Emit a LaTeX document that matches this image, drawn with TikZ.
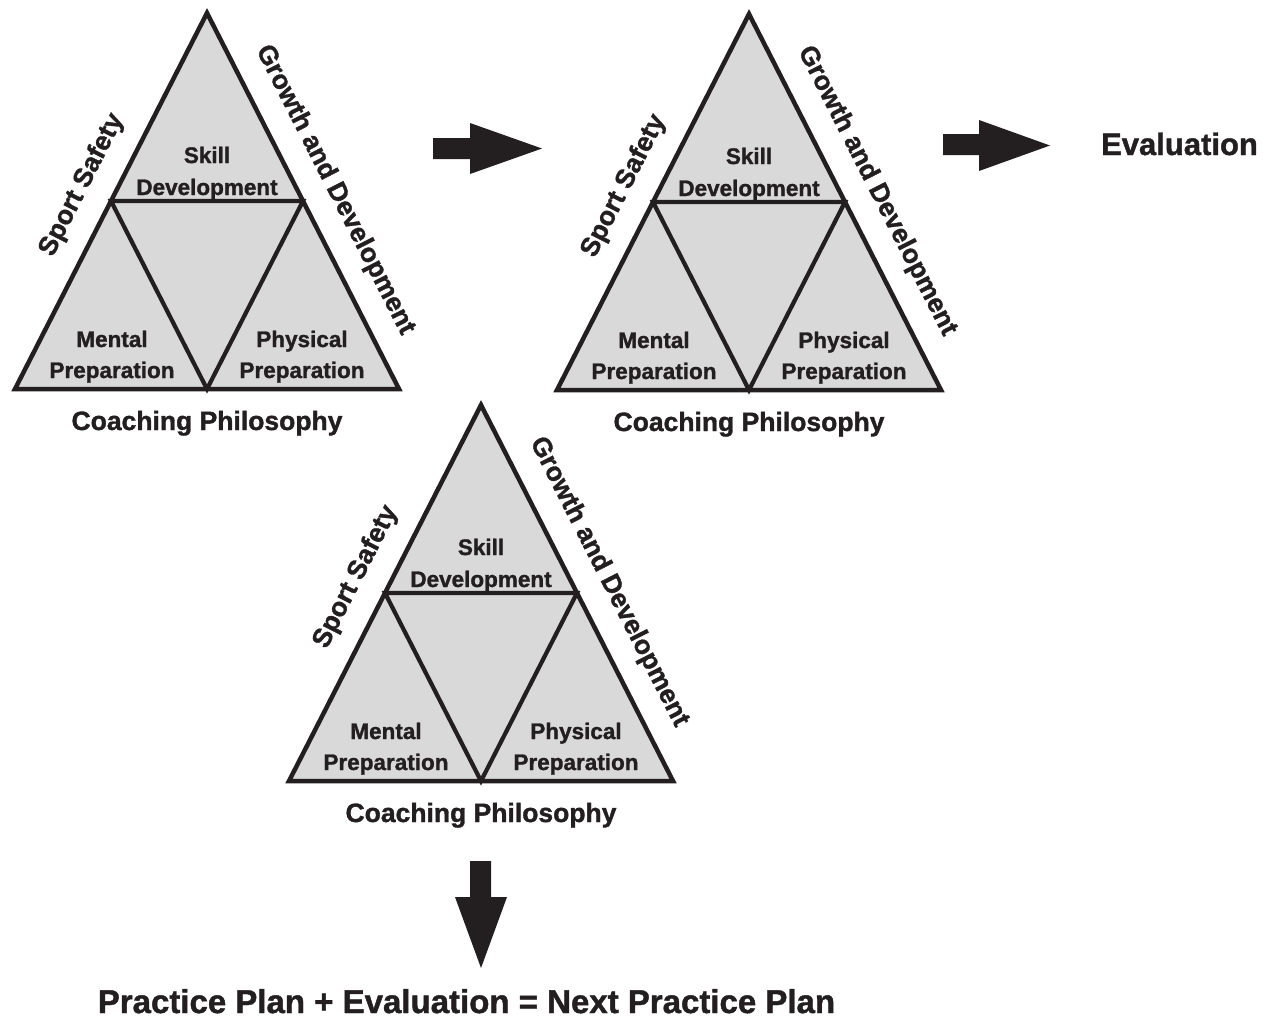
\documentclass[tikz,border=0pt]{standalone}
\usepackage{fontspec}
\setmainfont{Liberation Sans}[BoldFeatures={FakeBold=1.3}]
\definecolor{ink}{HTML}{231F20}
\definecolor{trifill}{HTML}{D9D9D9}
\tikzset{
  outertri/.style={fill=trifill, draw=ink, line width=4.5pt, line join=miter},
  innertri/.style={draw=ink, line width=4.2pt, line join=miter},
  lbl/.style={text=ink, font=\fontsize{22.5}{27}\selectfont\bfseries, inner sep=0pt, anchor=base},
  sidelbl/.style={text=ink, font=\fontsize{26.5}{30}\selectfont\bfseries, inner sep=0pt},
  titlelbl/.style={text=ink, font=\fontsize{26.5}{30}\selectfont\bfseries, inner sep=0pt, anchor=base},
  blockarrow/.style={fill=ink, draw=none}
}
\begin{document}
\begin{tikzpicture}[x=1pt,y=-1pt]
\useasboundingbox (0,0) rectangle (1271,1018);
\foreach \n/\ax/\ay in {t1/207/13, t2/749/14, t3/481/405}{
  \begin{scope}[shift={(\ax,\ay)}]
    \draw[outertri] (0,0) -- (-192,376) -- (192,376) -- cycle;
    \draw[innertri] (-96,188) -- (96,188) -- (0,376) -- cycle;
    \node[lbl] (\n-skill) at (0,150) {Skill};
    \node[lbl] (\n-skilldev) at (0,182) {Development};
    \node[lbl] (\n-mental) at (-95,334) {Mental};
    \node[lbl] (\n-mentalprep) at (-95,365) {Preparation};
    \node[lbl] (\n-phys) at (95,334) {Physical};
    \node[lbl] (\n-physprep) at (95,365) {Preparation};
    \node[titlelbl] (\n-coach) at (0,417) {Coaching Philosophy};
    \node[sidelbl, rotate=63] (\n-safety) at (-125,172) {Sport Safety};
    \node[sidelbl, rotate=-63] (\n-growth) at (128,177) {Growth and Development};
  \end{scope}
}
% block arrows
\fill[blockarrow] (433,138) -- (470,138) -- (470,123) -- (542,148.5) -- (470,174) -- (470,159) -- (433,159) -- cycle;
\fill[blockarrow] (943,134) -- (979,134) -- (979,120) -- (1050,145.5) -- (979,171) -- (979,155) -- (943,155) -- cycle;
\fill[blockarrow] (470,861) -- (491,861) -- (491,897) -- (507,897) -- (481,968) -- (455,897) -- (470,897) -- cycle;
\node[text=ink, font=\fontsize{31}{36}\selectfont\bfseries, inner sep=0pt, anchor=base] (eval) at (1179.5,155) {Evaluation};
\node[text=ink, font=\fontsize{33}{38}\selectfont\bfseries, inner sep=0pt, text depth=0pt, anchor=base] (plan) at (466.5,1013) {Practice Plan + Evaluation = Next Practice Plan};
\end{tikzpicture}
\end{document}
